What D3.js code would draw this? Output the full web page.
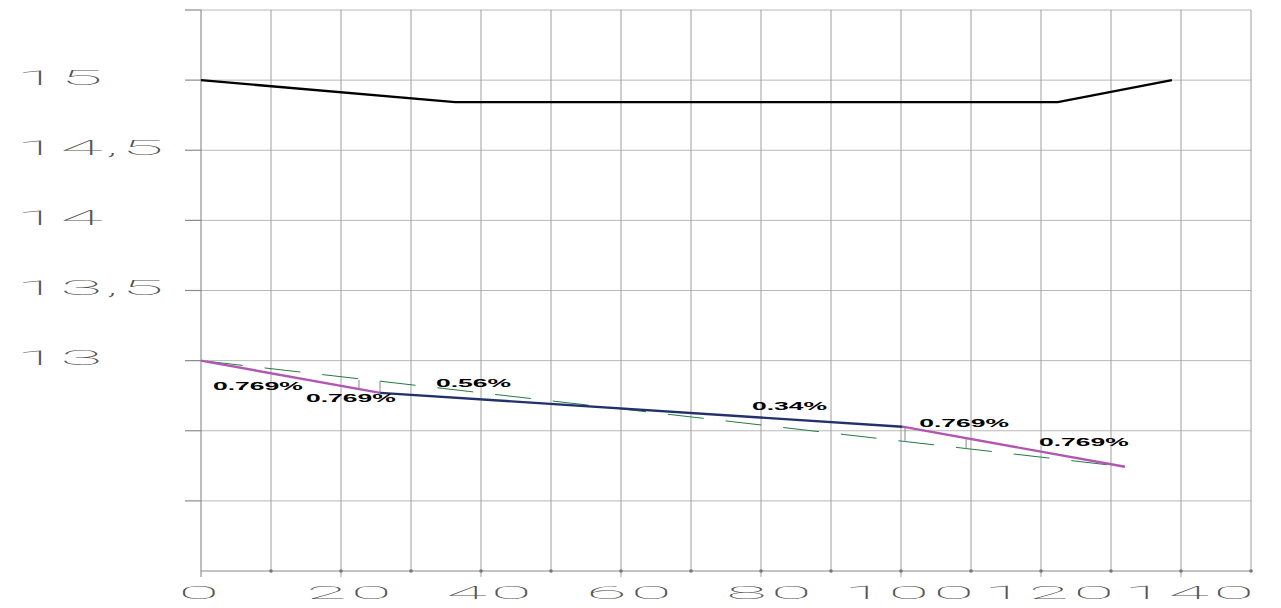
<!DOCTYPE html>
<html>
<head>
<meta charset="utf-8">
<script src="https://cdn.jsdelivr.net/npm/d3@7"></script>
<style>
  html, body { margin: 0; padding: 0; background: #fff; }
  svg { display: block; }
</style>
</head>
<body>
<svg id="chart" width="1281" height="608"></svg>
<script>
// ---------- data ----------
const xTicks = [0, 20, 40, 60, 80, 100, 120, 140];
const xTickLabels = ["0", "20", "40", "60", "80", "100", "120", "140"];
const xGridValues = [0, 10, 20, 30, 40, 50, 60, 70, 80, 90, 100, 110, 120, 130, 140, 150];
const yGridValues = [11.5, 12, 12.5, 13, 13.5, 14, 14.5, 15, 15.5];
const yTicks = [15, 14.5, 14, 13.5, 13];
const yTickLabels = ["15", "14,5", "14", "13,5", "13"];

// ground (black) line
const groundX = [0, 36.3, 122.4, 138.7];
const groundY = [15, 14.843, 14.843, 15];

// profile segments
const seg1X = [0, 25.6];      const seg1Y = [13, 12.77];      // purple
const seg2X = [25.6, 100.2];  const seg2Y = [12.77, 12.529];  // navy
const seg3X = [100.2, 132];   const seg3Y = [12.529, 12.243]; // purple

// green dashed line
const greenX = [0, 132];
const greenY = [13, 12.243];

// vertical connectors (x, yTop, yBottom)
const connX = [22.57, 25.57, 100.57, 109.3];
const connTop = [12.864, 12.85, 12.521, 12.45];
const connBottom = [12.8, 12.771, 12.421, 12.371];

// slope labels (left x, baseline y in data units)
const slopeText = ["0.769%", "0.769%", "0.56%", "0.34%", "0.769%", "0.769%"];
const slopeX = [1.71, 15.0, 33.57, 78.7, 102.6, 119.7];
const slopeY = [12.79, 12.707, 12.81, 12.648, 12.524, 12.388];

// ---------- chart ----------
const svg = d3.select("#chart");
const x = d3.scaleLinear().domain([0, 150]).range([201, 1251]);
const y = d3.scaleLinear().domain([11.5, 15.5]).range([571, 10]);

const thinFont = "Roboto, Lato, 'Open Sans', sans-serif";

// horizontal gridlines
svg.append("g").selectAll("line").data(yGridValues).join("line")
  .attr("x1", x(0)).attr("x2", x(150))
  .attr("y1", d => y(d)).attr("y2", d => y(d))
  .attr("stroke", d => d === 11.5 ? "#c4c4c4" : "#b8b8b8")
  .attr("stroke-width", d => d === 11.5 ? 2 : 1);

// left ticks
svg.append("g").selectAll("line").data(yGridValues.filter(d => d > 11.5)).join("line")
  .attr("x1", x(0) - 16).attr("x2", x(0))
  .attr("y1", d => y(d)).attr("y2", d => y(d))
  .attr("stroke", "#8c8c8c").attr("stroke-width", 1.2);

// vertical gridlines
svg.append("g").selectAll("line").data(xGridValues).join("line")
  .attr("x1", d => x(d)).attr("x2", d => x(d))
  .attr("y1", y(15.5)).attr("y2", d => (d === 0 || xTicks.includes(d)) ? y(11.5) + 6 : y(11.5))
  .attr("stroke", d => d === 0 ? "#7d7d7d" : "#9e9e9e")
  .attr("stroke-width", 1);

// dots on axis
svg.append("g").selectAll("circle").data(xGridValues.filter(d => d > 0)).join("circle")
  .attr("cx", d => x(d)).attr("cy", y(11.5)).attr("r", 1.8)
  .attr("fill", "#777");

// x labels
const xl = svg.append("g").selectAll("g").data(xTicks).join("g")
  .attr("transform", d => `translate(${x(d) + (d === 0 ? 0 : 10)},599)`);
xl.append("text")
  .attr("transform", "scale(3.9,1)")
  .attr("text-anchor", "middle")
  .attr("font-family", thinFont)
  .attr("font-weight", 100)
  .attr("font-size", 19)
  .attr("letter-spacing", 1.1)
  .attr("fill", "#555")
  .text((d, i) => xTickLabels[i]);

// y labels
const yl = svg.append("g").selectAll("g").data(yTicks).join("g")
  .attr("transform", d => `translate(16,${y(d) + 4.5})`);
yl.append("text")
  .attr("transform", "scale(3.7,1)")
  .attr("text-anchor", "start")
  .attr("font-family", thinFont)
  .attr("font-weight", 100)
  .attr("font-size", 21)
  .attr("letter-spacing", 0.5)
  .attr("fill", "#555")
  .text((d, i) => yTickLabels[i]);

const line = d3.line().x(d => x(d[0])).y(d => y(d[1]));
const zip = (a, b) => a.map((v, i) => [v, b[i]]);

// green dashed
svg.append("path").datum(zip(greenX, greenY))
  .attr("d", line).attr("fill", "none")
  .attr("stroke", "#237a46").attr("stroke-width", 1)
  .attr("stroke-dasharray", "36,22").attr("stroke-dashoffset", -6);

// connectors
svg.append("g").selectAll("line").data(connX).join("line")
  .attr("x1", d => x(d)).attr("x2", d => x(d))
  .attr("y1", (d, i) => y(connTop[i])).attr("y2", (d, i) => y(connBottom[i]))
  .attr("stroke", "#888").attr("stroke-width", 1);

// ground line
svg.append("path").datum(zip(groundX, groundY))
  .attr("d", line).attr("fill", "none")
  .attr("stroke", "#000").attr("stroke-width", 2.4);

// profile
[[seg1X, seg1Y, "#b157b1"], [seg3X, seg3Y, "#b157b1"], [seg2X, seg2Y, "#23306c"]].forEach(([sx, sy, c]) => {
  svg.append("path").datum(zip(sx, sy))
    .attr("d", line).attr("fill", "none")
    .attr("stroke", c).attr("stroke-width", 2.4);
});

// slope labels
const sl = svg.append("g").selectAll("g").data(slopeText).join("g")
  .attr("transform", (d, i) => `translate(${x(slopeX[i])},${y(slopeY[i])})`);
sl.append("text")
  .attr("transform", "scale(2.65,1)")
  .attr("font-family", "'Liberation Sans', Arial, sans-serif")
  .attr("font-weight", "bold")
  .attr("font-size", 10)
  .attr("fill", "#000")
  .text(d => d);
</script>
</body>
</html>
